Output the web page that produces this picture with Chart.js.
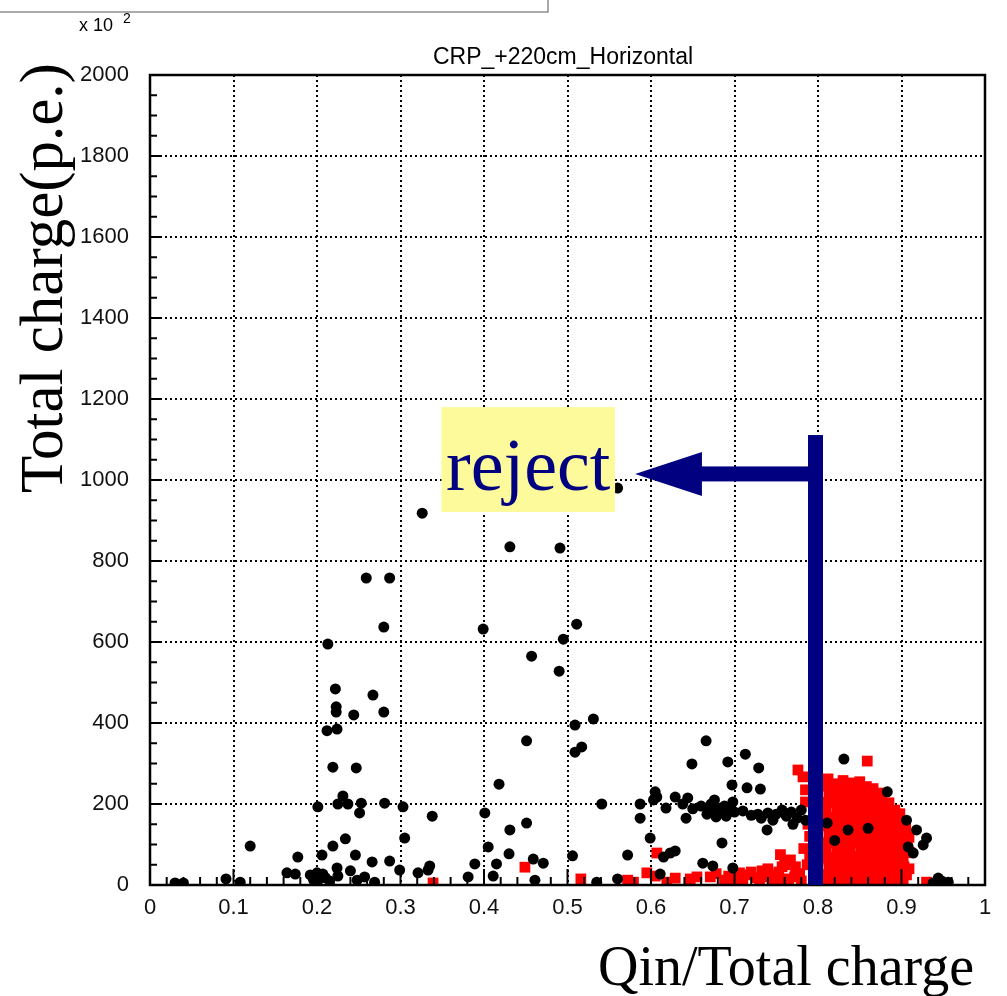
<!DOCTYPE html>
<html lang="en">
<head>
<meta charset="UTF-8">
<title>CRP_+220cm_Horizontal</title>
<script src="https://cdn.jsdelivr.net/npm/chart.js"></script>
<style>
  body { margin: 0; background: #fff; }
  canvas { display: block; }
</style>
</head>
<body>
<canvas id="scatter" width="1007" height="996"></canvas>
<script>
// tick labels
const xTickLabels = ['0', '0.1', '0.2', '0.3', '0.4', '0.5', '0.6', '0.7', '0.8', '0.9', '1'];
const yTickLabels = ['0', '200', '400', '600', '800', '1000', '1200', '1400', '1600', '1800', '2000'];

// black circles
const blackPts = [
  [0.030, 5], [0.040, 5], [0.091, 15], [0.108, 7], [0.120, 96],
  [0.164, 30], [0.174, 27], [0.177, 69], [0.192, 25], [0.200, 30], [0.207, 27],
  [0.196, 12], [0.203, 15], [0.210, 18], [0.215, 10], [0.225, 22], [0.201, 193], [0.206, 74],
  [0.212, 381], [0.224, 385], [0.213, 595], [0.222, 484], [0.223, 440], [0.223, 427],
  [0.219, 291], [0.219, 96], [0.224, 42], [0.231, 220], [0.225, 200], [0.237, 200],
  [0.234, 114], [0.240, 35], [0.244, 420], [0.247, 289], [0.246, 74], [0.248, 12],
  [0.253, 202], [0.251, 178], [0.257, 20], [0.259, 758], [0.267, 469], [0.266, 57],
  [0.269, 7], [0.280, 637], [0.280, 427], [0.281, 202], [0.287, 758], [0.287, 59],
  [0.299, 37], [0.303, 193], [0.305, 116], [0.321, 30], [0.326, 918], [0.333, 37],
  [0.335, 47], [0.338, 170], [0.381, 20], [0.389, 52], [0.399, 632], [0.401, 178],
  [0.405, 94], [0.411, 22], [0.415, 52], [0.418, 249], [0.430, 77], [0.431, 136],
  [0.431, 835], [0.451, 356], [0.451, 153], [0.457, 565], [0.459, 64], [0.461, 12],
  [0.471, 54], [0.490, 528], [0.491, 832], [0.495, 607], [0.506, 72], [0.509, 395],
  [0.509, 328], [0.511, 644], [0.517, 341], [0.531, 410], [0.541, 200], [0.535, 7],
  [0.560, 980], [0.560, 15], [0.572, 74], [0.587, 200], [0.587, 165], [0.599, 116],
  [0.605, 230], [0.607, 217], [0.603, 210], [0.611, 27], [0.615, 69], [0.618, 190],
  [0.623, 79], [0.629, 84], [0.629, 217], [0.638, 200], [0.642, 165], [0.644, 215],
  [0.649, 299], [0.650, 188], [0.662, 54], [0.666, 356], [0.674, 47],
  [0.660, 195], [0.667, 175], [0.672, 200], [0.676, 210], [0.678, 168], [0.684, 180],
  [0.688, 195], [0.680, 190], [0.690, 170], [0.694, 185], [0.670, 185], [0.685, 104],
  [0.692, 304], [0.697, 247], [0.698, 205], [0.698, 42], [0.700, 180],
  [0.710, 183], [0.713, 323], [0.715, 240], [0.729, 289], [0.731, 237], [0.720, 172],
  [0.728, 175], [0.732, 165], [0.740, 178], [0.746, 160], [0.739, 136], [0.750, 175],
  [0.757, 185], [0.762, 170], [0.768, 180], [0.775, 165], [0.780, 185], [0.785, 160],
  [0.770, 150], [0.831, 311], [0.811, 153], [0.836, 136], [0.883, 230], [0.906, 160],
  [0.918, 136], [0.930, 116], [0.926, 99], [0.908, 94], [0.914, 79], [0.938, 5],
  [0.944, 17], [0.956, 7], [0.948, 10], [0.860, 140], [0.820, 110]
];

// red squares left of the cut
const redBand = [
  [0.339, 5], [0.449, 44], [0.516, 15], [0.572, 12], [0.579, 7], [0.595, 30],
  [0.605, 22], [0.607, 79], [0.619, 7], [0.629, 17], [0.647, 15], [0.655, 20],
  [0.671, 20], [0.678, 28], [0.688, 12], [0.693, 22], [0.700, 8], [0.706, 30],
  [0.713, 25], [0.720, 32], [0.727, 18], [0.733, 35], [0.740, 40], [0.747, 25],
  [0.753, 32], [0.757, 45], [0.762, 15], [0.767, 62], [0.773, 45], [0.778, 28],
  [0.780, 10], [0.787, 50], [0.790, 70], [0.793, 80], [0.800, 60], [0.805, 70],
  [0.776, 284], [0.782, 267], [0.785, 235], [0.785, 205], [0.788, 150], [0.790, 120],
  [0.745, 8], [0.765, 5], [0.730, 8], [0.710, 5], [0.755, 75], [0.783, 90],
  [0.772, 20], [0.760, 50], [0.750, 12], [0.737, 20], [0.795, 25], [0.798, 100]
];

// red squares in the dense blob right of the cut
const redBlob = [
  [0.812, 5], [0.811, 26], [0.813, 44], [0.812, 66], [0.810, 84], [0.812, 104], [0.813, 126],
  [0.811, 146], [0.812, 164], [0.810, 186], [0.812, 204], [0.813, 226], [0.811, 244], [0.812, 262],
  [0.821, 8], [0.822, 28], [0.820, 47], [0.821, 69], [0.823, 88], [0.821, 107], [0.820, 128],
  [0.822, 149], [0.821, 167], [0.823, 188], [0.821, 209], [0.820, 228], [0.822, 250],
  [0.830, 4], [0.831, 24], [0.829, 46], [0.830, 64], [0.832, 86], [0.830, 105], [0.829, 124],
  [0.831, 146], [0.830, 165], [0.832, 184], [0.830, 206], [0.829, 225], [0.831, 245], [0.830, 258],
  [0.840, 10], [0.839, 31], [0.841, 50], [0.840, 70], [0.838, 91], [0.840, 110], [0.841, 129],
  [0.840, 150], [0.839, 171], [0.841, 190], [0.840, 211], [0.838, 230], [0.840, 252],
  [0.849, 6], [0.850, 25], [0.848, 44], [0.849, 66], [0.851, 85], [0.849, 104], [0.850, 126],
  [0.848, 145], [0.849, 164], [0.851, 186], [0.849, 205], [0.850, 224], [0.848, 246], [0.850, 255],
  [0.858, 8], [0.857, 28], [0.859, 48], [0.858, 69], [0.860, 88], [0.858, 108], [0.857, 128],
  [0.859, 148], [0.858, 169], [0.856, 188], [0.858, 208], [0.859, 228], [0.858, 243],
  [0.867, 5], [0.868, 26], [0.866, 45], [0.867, 65], [0.869, 86], [0.867, 105], [0.866, 125],
  [0.868, 146], [0.867, 165], [0.866, 184], [0.868, 205], [0.867, 224], [0.866, 238],
  [0.876, 10], [0.875, 30], [0.877, 50], [0.876, 71], [0.874, 90], [0.876, 110], [0.877, 130],
  [0.875, 150], [0.876, 170], [0.877, 190], [0.875, 209], [0.876, 227],
  [0.885, 5], [0.884, 25], [0.886, 45], [0.885, 66], [0.883, 85], [0.885, 105], [0.886, 125],
  [0.884, 145], [0.885, 164], [0.884, 184], [0.885, 203],
  [0.894, 8], [0.893, 28], [0.895, 48], [0.894, 68], [0.892, 88], [0.894, 108], [0.895, 128],
  [0.893, 148], [0.894, 167], [0.892, 185],
  [0.902, 5], [0.901, 25], [0.903, 45], [0.902, 65], [0.900, 85], [0.902, 105], [0.903, 124],
  [0.901, 140], [0.900, 158],
  [0.909, 40], [0.910, 80], [0.909, 118], [0.859, 306], [0.906, 25], [0.930, 7],
  [0.816, 55], [0.826, 136], [0.835, 95], [0.845, 178], [0.854, 36], [0.863, 116],
  [0.872, 196], [0.881, 76], [0.890, 156], [0.898, 115], [0.826, 236], [0.845, 236],
  [0.835, 196], [0.854, 196], [0.863, 216], [0.881, 176], [0.890, 136], [0.898, 176],
  [0.816, 236], [0.872, 156], [0.907, 100], [0.905, 140]
];

// cut line / annotation positions in data units
const cutX = 0.797;
const cutTop = 1111;
const arrowY = 1015;
const arrowTipX = 0.581;
const arrowHeadX = 0.661;
const rejectBox = { x0: 0.349, x1: 0.557, y0: 921, y1: 1180 };
const rejectBaseY = 975;

const NAVY = '#000080';

const toXY = pts => pts.map(p => ({ x: p[0], y: p[1] }));

const decor = {
  id: 'decor',
  afterDatasetsDraw(chart) {
    const { ctx, chartArea: a, scales: { x, y } } = chart;
    ctx.save();
    ctx.strokeStyle = '#000';
    ctx.lineWidth = 2;
    // minor + major ticks on x (pointing up)
    for (let i = 0; i <= 50; i++) {
      const px = x.getPixelForValue(i * 0.02);
      const len = i % 5 === 0 ? 16 : 8;
      ctx.beginPath(); ctx.moveTo(px, a.bottom); ctx.lineTo(px, a.bottom - len); ctx.stroke();
    }
    // minor + major ticks on y (pointing right)
    for (let i = 0; i <= 40; i++) {
      const py = y.getPixelForValue(i * 50);
      const len = i % 4 === 0 ? 11 : 7;
      ctx.beginPath(); ctx.moveTo(a.left, py); ctx.lineTo(a.left + len, py); ctx.stroke();
    }
    // frame
    ctx.lineWidth = 2.5;
    ctx.strokeRect(a.left, a.top, a.right - a.left, a.bottom - a.top);

    // reject box
    const bx0 = x.getPixelForValue(rejectBox.x0), bx1 = x.getPixelForValue(rejectBox.x1);
    const by0 = y.getPixelForValue(rejectBox.y1), by1 = y.getPixelForValue(rejectBox.y0);
    ctx.fillStyle = '#fdfa9c';
    ctx.fillRect(bx0, by0, bx1 - bx0, by1 - by0);
    ctx.fillStyle = NAVY;
    ctx.font = '74px "Liberation Serif", "Times New Roman", serif';
    ctx.textAlign = 'center';
    ctx.textBaseline = 'alphabetic';
    ctx.fillText('reject', (bx0 + bx1) / 2, y.getPixelForValue(rejectBaseY));

    // cut line
    const cx = x.getPixelForValue(cutX);
    ctx.fillRect(cx - 7.5, y.getPixelForValue(cutTop), 15, a.bottom - y.getPixelForValue(cutTop));
    // arrow
    const ay = y.getPixelForValue(arrowY);
    const hx = x.getPixelForValue(arrowHeadX);
    ctx.fillRect(hx - 1, ay - 7.5, cx - hx, 15);
    ctx.beginPath();
    ctx.moveTo(x.getPixelForValue(arrowTipX), ay);
    ctx.lineTo(hx, ay - 22);
    ctx.lineTo(hx, ay + 22);
    ctx.closePath();
    ctx.fill();
    ctx.restore();
  },
  afterDraw(chart) {
    const { ctx } = chart;
    ctx.save();
    // clipped stats box at top left
    ctx.strokeStyle = '#555';
    ctx.lineWidth = 1;
    ctx.strokeRect(-1, -2, 549, 14);

    ctx.fillStyle = '#000';
    ctx.font = '18px "Liberation Sans", Arial, sans-serif';
    ctx.textAlign = 'left';
    ctx.fillText('x 10', 79, 31);
    ctx.font = '14px "Liberation Sans", Arial, sans-serif';
    ctx.fillText('2', 123, 23);

    // title
    ctx.font = '23px "Liberation Sans", Arial, sans-serif';
    ctx.textAlign = 'center';
    ctx.fillText('CRP_+220cm_Horizontal', 563, 64);

    // axis titles
    ctx.font = '56px "Liberation Serif", "Times New Roman", serif';
    ctx.textAlign = 'right';
    ctx.fillText('Qin/Total charge', 974, 985);

    ctx.translate(62, 278);
    ctx.rotate(-Math.PI / 2);
    ctx.font = '61px "Liberation Serif", "Times New Roman", serif';
    ctx.textAlign = 'center';
    ctx.fillText('Total charge(p.e.)', 0, 0);
    ctx.restore();
  }
};

const ctx = document.getElementById('scatter').getContext('2d');
new Chart(ctx, {
  type: 'scatter',
  data: {
    datasets: [
      {
        label: 'all',
        data: toXY(blackPts),
        backgroundColor: '#000',
        borderWidth: 0,
        pointRadius: 5.5,
        pointStyle: 'circle'
      },
      {
        label: 'selected',
        data: toXY(redBand.concat(redBlob)),
        backgroundColor: '#ff0000',
        borderWidth: 0,
        pointRadius: 7.6,
        pointStyle: 'rect'
      }
    ]
  },
  options: {
    responsive: false,
    animation: false,
    layout: { padding: { top: 75, right: 22, left: 0, bottom: 0 } },
    plugins: {
      legend: { display: false },
      tooltip: { enabled: false }
    },
    scales: {
      x: {
        type: 'linear',
        min: 0,
        max: 1,
        afterFit: s => { s.height = 111; },
        ticks: {
          stepSize: 0.1,
          padding: 10,
          color: '#111',
          font: { family: '"Liberation Sans", Arial, sans-serif', size: 22 },
          maxRotation: 0,
          callback: (v, i) => xTickLabels[i]
        },
        grid: { color: '#000', lineWidth: 2, drawTicks: false },
        border: { display: false, dash: [2, 3] }
      },
      y: {
        type: 'linear',
        min: 0,
        max: 2000,
        afterFit: s => { s.width = 150; },
        ticks: {
          stepSize: 200,
          padding: 21,
          color: '#111',
          font: { family: '"Liberation Sans", Arial, sans-serif', size: 22 },
          callback: (v, i) => yTickLabels[i]
        },
        grid: { color: '#000', lineWidth: 2, drawTicks: false },
        border: { display: false, dash: [2, 3] }
      }
    }
  },
  plugins: [decor]
});
</script>
</body>
</html>
